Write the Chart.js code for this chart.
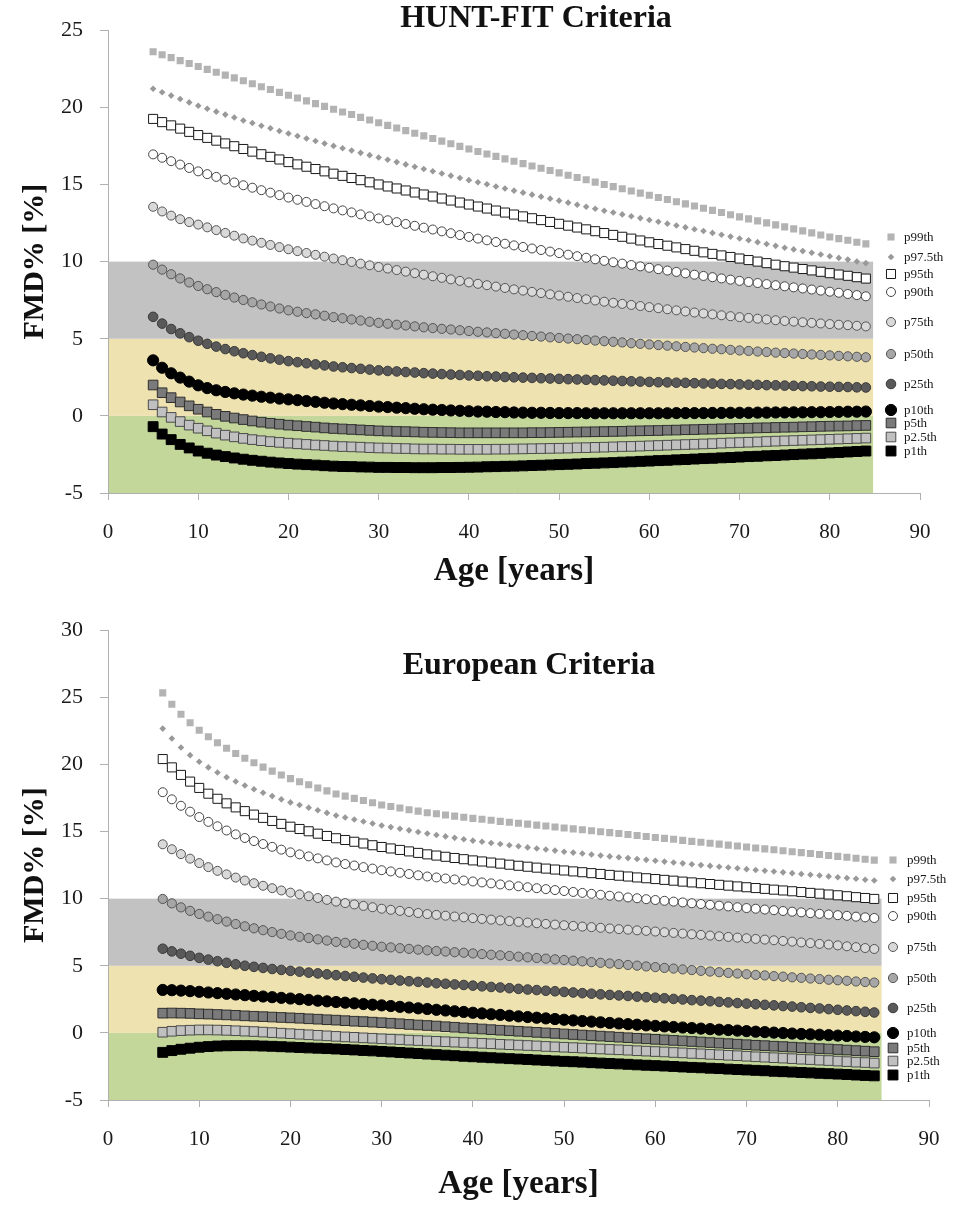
<!DOCTYPE html>
<html>
<head>
<meta charset="utf-8">
<title>FMD% percentiles</title>
<script src="https://cdn.jsdelivr.net/npm/chart.js@4.4.1/dist/chart.umd.min.js"></script>
<style>
body { margin: 0; background: #ffffff; }
#wrap { position: relative; width: 961px; height: 1205px; }
#wrap canvas { position: absolute; left: 0; }
</style>
</head>
<body>
<div id="wrap">
  <canvas id="hunt-chart" width="961" height="600" style="top:0px;width:961px;height:600px"></canvas>
  <canvas id="euro-chart" width="961" height="605" style="top:600px;width:961px;height:605px"></canvas>
</div>
<script>
var seriesNames = ["p99th", "p97.5th", "p95th", "p90th", "p75th", "p50th", "p25th", "p10th", "p5th", "p2.5th", "p1th"];

var huntAges = [5,6,7,8,9,10,11,12,13,14,15,16,17,18,19,20,21,22,23,24,25,26,27,28,29,30,31,32,33,34,35,36,37,38,39,40,41,42,43,44,45,46,47,48,49,50,51,52,53,54,55,56,57,58,59,60,61,62,63,64,65,66,67,68,69,70,71,72,73,74,75,76,77,78,79,80,81,82,83,84];
var euroAges = [6,7,8,9,10,11,12,13,14,15,16,17,18,19,20,21,22,23,24,25,26,27,28,29,30,31,32,33,34,35,36,37,38,39,40,41,42,43,44,45,46,47,48,49,50,51,52,53,54,55,56,57,58,59,60,61,62,63,64,65,66,67,68,69,70,71,72,73,74,75,76,77,78,79,80,81,82,83,84];

// HUNT-FIT criteria, FMD% per age
var huntP99 = [23.60,23.41,23.22,23.03,22.84,22.65,22.46,22.28,22.09,21.91,21.72,21.53,21.34,21.16,20.97,20.78,20.60,20.42,20.24,20.06,19.88,19.70,19.53,19.35,19.18,19.00,18.83,18.66,18.49,18.32,18.15,17.98,17.81,17.64,17.47,17.30,17.14,16.98,16.82,16.66,16.50,16.35,16.20,16.05,15.90,15.75,15.60,15.45,15.30,15.15,15.00,14.86,14.72,14.58,14.44,14.30,14.16,14.02,13.88,13.74,13.60,13.46,13.32,13.18,13.04,12.90,12.77,12.64,12.51,12.38,12.25,12.12,11.99,11.86,11.73,11.60,11.49,11.38,11.26,11.15];
var huntP975 = [21.20,20.98,20.76,20.54,20.32,20.10,19.91,19.72,19.53,19.34,19.15,18.98,18.81,18.64,18.47,18.30,18.14,17.98,17.82,17.66,17.50,17.35,17.20,17.05,16.90,16.75,16.60,16.45,16.30,16.15,16.00,15.86,15.71,15.57,15.42,15.28,15.14,15.01,14.87,14.74,14.60,14.47,14.34,14.21,14.08,13.95,13.82,13.69,13.56,13.43,13.30,13.18,13.06,12.94,12.82,12.70,12.58,12.46,12.34,12.22,12.10,11.98,11.86,11.74,11.62,11.50,11.38,11.26,11.14,11.02,10.90,10.79,10.68,10.57,10.46,10.35,10.24,10.13,10.01,9.90];
var huntP95 = [19.25,19.04,18.83,18.62,18.41,18.20,18.02,17.84,17.66,17.48,17.30,17.13,16.96,16.79,16.62,16.45,16.30,16.15,16.00,15.85,15.70,15.56,15.42,15.28,15.14,15.00,14.87,14.74,14.61,14.48,14.35,14.22,14.09,13.96,13.83,13.70,13.57,13.44,13.31,13.18,13.05,12.93,12.81,12.69,12.57,12.45,12.33,12.21,12.09,11.97,11.85,11.73,11.61,11.49,11.37,11.25,11.14,11.03,10.92,10.81,10.70,10.60,10.50,10.40,10.30,10.20,10.10,10.00,9.90,9.80,9.70,9.61,9.52,9.43,9.34,9.25,9.16,9.08,8.99,8.90];
var huntP90 = [16.95,16.73,16.51,16.29,16.07,15.85,15.67,15.49,15.31,15.13,14.95,14.79,14.63,14.47,14.31,14.15,14.01,13.87,13.73,13.59,13.45,13.32,13.19,13.06,12.93,12.80,12.68,12.56,12.44,12.32,12.20,12.08,11.96,11.84,11.72,11.60,11.49,11.38,11.27,11.16,11.05,10.95,10.85,10.75,10.65,10.55,10.45,10.35,10.25,10.15,10.05,9.96,9.87,9.78,9.69,9.60,9.51,9.42,9.33,9.24,9.15,9.07,8.99,8.91,8.83,8.75,8.68,8.61,8.54,8.47,8.40,8.33,8.26,8.19,8.12,8.05,7.98,7.90,7.83,7.75];
var huntP75 = [13.55,13.25,12.98,12.75,12.56,12.40,12.22,12.04,11.86,11.68,11.50,11.36,11.22,11.08,10.94,10.80,10.68,10.56,10.44,10.32,10.20,10.09,9.98,9.87,9.76,9.65,9.55,9.45,9.35,9.25,9.15,9.05,8.95,8.85,8.75,8.65,8.56,8.47,8.38,8.29,8.20,8.12,8.04,7.96,7.88,7.80,7.72,7.64,7.56,7.48,7.40,7.33,7.26,7.19,7.12,7.05,6.98,6.91,6.84,6.77,6.70,6.64,6.58,6.52,6.46,6.40,6.35,6.30,6.25,6.20,6.15,6.11,6.07,6.03,5.99,5.95,5.91,5.88,5.84,5.80];
var huntP50 = [9.80,9.48,9.18,8.91,8.65,8.42,8.21,8.02,7.84,7.67,7.51,7.36,7.22,7.09,6.96,6.84,6.75,6.66,6.58,6.49,6.40,6.33,6.25,6.18,6.10,6.03,5.97,5.91,5.86,5.80,5.74,5.69,5.64,5.60,5.55,5.50,5.45,5.41,5.36,5.32,5.27,5.23,5.18,5.14,5.09,5.05,5.01,4.97,4.92,4.88,4.84,4.80,4.76,4.71,4.67,4.63,4.59,4.55,4.51,4.47,4.43,4.39,4.35,4.32,4.28,4.24,4.21,4.17,4.14,4.10,4.07,4.04,4.01,3.98,3.95,3.92,3.89,3.86,3.83,3.80];
var huntP25 = [6.42,5.98,5.63,5.35,5.10,4.87,4.67,4.49,4.33,4.19,4.06,3.94,3.83,3.73,3.64,3.55,3.48,3.41,3.34,3.27,3.20,3.15,3.10,3.05,3.00,2.95,2.91,2.88,2.84,2.81,2.77,2.74,2.71,2.68,2.65,2.62,2.60,2.57,2.55,2.52,2.50,2.48,2.46,2.44,2.42,2.40,2.38,2.36,2.34,2.32,2.30,2.28,2.26,2.24,2.22,2.20,2.18,2.17,2.15,2.14,2.12,2.10,2.09,2.07,2.06,2.04,2.02,2.01,1.99,1.98,1.96,1.95,1.93,1.92,1.90,1.89,1.88,1.87,1.85,1.84];
var huntP10 = [3.60,3.12,2.76,2.48,2.22,1.98,1.80,1.66,1.55,1.46,1.38,1.31,1.24,1.18,1.12,1.07,1.02,0.96,0.91,0.85,0.80,0.76,0.72,0.68,0.64,0.60,0.57,0.53,0.50,0.46,0.43,0.40,0.38,0.35,0.33,0.30,0.28,0.27,0.25,0.24,0.22,0.21,0.20,0.20,0.19,0.18,0.18,0.18,0.17,0.17,0.17,0.17,0.17,0.17,0.17,0.17,0.17,0.17,0.18,0.18,0.18,0.18,0.19,0.19,0.20,0.20,0.20,0.21,0.21,0.22,0.22,0.23,0.23,0.24,0.24,0.25,0.26,0.27,0.27,0.28];
var huntP5 = [2.00,1.50,1.18,0.90,0.65,0.43,0.25,0.10,-0.03,-0.14,-0.24,-0.33,-0.41,-0.48,-0.54,-0.60,-0.64,-0.69,-0.73,-0.78,-0.82,-0.85,-0.88,-0.91,-0.94,-0.97,-0.99,-1.01,-1.02,-1.04,-1.06,-1.07,-1.08,-1.09,-1.10,-1.10,-1.10,-1.10,-1.10,-1.10,-1.10,-1.10,-1.09,-1.09,-1.08,-1.07,-1.06,-1.05,-1.04,-1.03,-1.02,-1.01,-1.00,-0.98,-0.97,-0.96,-0.95,-0.93,-0.92,-0.90,-0.89,-0.87,-0.86,-0.84,-0.83,-0.81,-0.80,-0.78,-0.77,-0.75,-0.74,-0.73,-0.71,-0.70,-0.68,-0.67,-0.66,-0.65,-0.63,-0.62];
var huntP2_5 = [0.72,0.25,-0.10,-0.37,-0.60,-0.80,-0.97,-1.12,-1.25,-1.36,-1.46,-1.54,-1.61,-1.67,-1.72,-1.77,-1.81,-1.85,-1.89,-1.92,-1.96,-1.99,-2.01,-2.03,-2.06,-2.08,-2.09,-2.11,-2.12,-2.14,-2.15,-2.15,-2.16,-2.16,-2.17,-2.17,-2.17,-2.17,-2.16,-2.16,-2.15,-2.14,-2.13,-2.12,-2.11,-2.10,-2.09,-2.07,-2.06,-2.04,-2.03,-2.01,-1.99,-1.98,-1.96,-1.94,-1.92,-1.90,-1.88,-1.86,-1.84,-1.82,-1.80,-1.77,-1.75,-1.73,-1.71,-1.69,-1.66,-1.64,-1.62,-1.60,-1.58,-1.56,-1.54,-1.52,-1.50,-1.48,-1.46,-1.44];
var huntP1 = [-0.70,-1.18,-1.54,-1.85,-2.08,-2.28,-2.42,-2.54,-2.64,-2.73,-2.81,-2.88,-2.94,-3.00,-3.05,-3.09,-3.13,-3.16,-3.19,-3.23,-3.26,-3.28,-3.29,-3.31,-3.32,-3.34,-3.34,-3.35,-3.35,-3.36,-3.36,-3.36,-3.35,-3.35,-3.34,-3.33,-3.32,-3.30,-3.29,-3.27,-3.26,-3.24,-3.22,-3.20,-3.18,-3.16,-3.14,-3.12,-3.09,-3.07,-3.05,-3.03,-3.00,-2.98,-2.95,-2.93,-2.90,-2.88,-2.85,-2.83,-2.80,-2.77,-2.75,-2.72,-2.70,-2.67,-2.64,-2.62,-2.59,-2.57,-2.54,-2.51,-2.48,-2.46,-2.43,-2.40,-2.37,-2.34,-2.31,-2.28];

// European criteria, FMD% per age
var euroP99 = [25.33,24.48,23.74,23.10,22.55,22.06,21.62,21.20,20.82,20.46,20.12,19.80,19.50,19.21,18.94,18.71,18.48,18.25,18.03,17.80,17.64,17.47,17.31,17.14,16.98,16.86,16.75,16.63,16.52,16.40,16.32,16.23,16.15,16.06,15.98,15.91,15.84,15.76,15.69,15.62,15.55,15.48,15.41,15.34,15.27,15.20,15.13,15.06,14.99,14.92,14.85,14.78,14.70,14.63,14.56,14.49,14.42,14.34,14.27,14.20,14.13,14.06,13.99,13.92,13.85,13.78,13.71,13.64,13.57,13.50,13.43,13.36,13.29,13.22,13.15,13.08,13.01,12.94,12.87];
var euroP975 = [22.67,21.93,21.26,20.69,20.20,19.78,19.40,19.05,18.73,18.43,18.15,17.89,17.64,17.40,17.17,16.98,16.78,16.59,16.39,16.20,16.05,15.90,15.75,15.60,15.45,15.33,15.21,15.09,14.97,14.85,14.74,14.64,14.53,14.43,14.32,14.24,14.15,14.07,13.98,13.90,13.82,13.74,13.66,13.58,13.50,13.43,13.36,13.29,13.22,13.15,13.08,13.02,12.95,12.89,12.82,12.76,12.69,12.63,12.56,12.50,12.44,12.38,12.32,12.26,12.20,12.14,12.08,12.02,11.96,11.90,11.84,11.78,11.72,11.66,11.60,11.54,11.48,11.41,11.35];
var euroP95 = [20.40,19.78,19.22,18.72,18.25,17.82,17.44,17.10,16.80,16.52,16.26,16.02,15.79,15.57,15.36,15.19,15.02,14.84,14.67,14.50,14.37,14.24,14.11,13.98,13.85,13.74,13.63,13.52,13.41,13.30,13.21,13.12,13.03,12.94,12.85,12.77,12.69,12.61,12.53,12.45,12.38,12.31,12.24,12.17,12.10,12.03,11.97,11.90,11.84,11.77,11.71,11.65,11.58,11.52,11.46,11.40,11.34,11.27,11.21,11.15,11.09,11.03,10.97,10.91,10.85,10.79,10.73,10.67,10.61,10.55,10.49,10.43,10.37,10.31,10.25,10.18,10.11,10.05,9.98];
var euroP90 = [17.93,17.40,16.92,16.48,16.08,15.72,15.39,15.08,14.79,14.52,14.29,14.07,13.86,13.65,13.45,13.30,13.15,13.00,12.85,12.70,12.58,12.47,12.35,12.24,12.12,12.03,11.93,11.84,11.74,11.65,11.58,11.50,11.43,11.35,11.28,11.21,11.14,11.06,10.99,10.92,10.85,10.78,10.71,10.64,10.57,10.50,10.43,10.36,10.29,10.22,10.16,10.09,10.03,9.96,9.90,9.84,9.78,9.72,9.66,9.60,9.54,9.48,9.42,9.36,9.30,9.25,9.19,9.14,9.08,9.03,8.98,8.92,8.87,8.82,8.77,8.72,8.66,8.61,8.56];
var euroP75 = [14.05,13.68,13.32,12.98,12.65,12.35,12.07,11.81,11.57,11.35,11.15,10.96,10.78,10.61,10.45,10.32,10.18,10.05,9.91,9.78,9.67,9.57,9.46,9.36,9.25,9.17,9.09,9.01,8.93,8.85,8.79,8.73,8.67,8.61,8.55,8.49,8.44,8.38,8.33,8.27,8.22,8.17,8.12,8.07,8.02,7.97,7.92,7.88,7.83,7.78,7.73,7.69,7.64,7.60,7.55,7.50,7.45,7.40,7.35,7.30,7.25,7.20,7.15,7.10,7.05,7.00,6.95,6.90,6.85,6.80,6.74,6.69,6.63,6.58,6.52,6.45,6.39,6.32,6.25];
var euroP50 = [9.98,9.65,9.35,9.09,8.86,8.66,8.47,8.29,8.11,7.94,7.79,7.65,7.51,7.38,7.26,7.16,7.07,6.97,6.88,6.78,6.71,6.64,6.56,6.49,6.42,6.37,6.31,6.26,6.20,6.15,6.10,6.06,6.01,5.97,5.92,5.87,5.82,5.78,5.73,5.68,5.63,5.58,5.53,5.48,5.43,5.38,5.33,5.27,5.22,5.17,5.12,5.06,5.01,4.95,4.90,4.84,4.79,4.73,4.68,4.62,4.57,4.52,4.47,4.42,4.37,4.32,4.28,4.23,4.19,4.14,4.10,4.05,4.01,3.96,3.92,3.88,3.83,3.79,3.75];
var euroP25 = [6.27,6.07,5.90,5.74,5.59,5.46,5.34,5.22,5.11,5.00,4.92,4.84,4.76,4.69,4.62,4.56,4.49,4.43,4.36,4.30,4.24,4.18,4.12,4.06,4.00,3.95,3.90,3.85,3.80,3.75,3.70,3.66,3.61,3.57,3.52,3.47,3.42,3.38,3.33,3.28,3.23,3.19,3.14,3.10,3.05,3.01,2.96,2.92,2.87,2.83,2.79,2.75,2.70,2.66,2.62,2.58,2.53,2.49,2.44,2.40,2.36,2.31,2.27,2.22,2.18,2.14,2.09,2.05,2.00,1.96,1.91,1.86,1.82,1.77,1.72,1.67,1.62,1.57,1.52];
var euroP10 = [3.20,3.18,3.15,3.11,3.06,3.01,2.96,2.91,2.86,2.81,2.76,2.71,2.66,2.61,2.56,2.51,2.46,2.40,2.35,2.30,2.25,2.20,2.15,2.10,2.05,2.00,1.94,1.89,1.83,1.78,1.72,1.67,1.61,1.56,1.50,1.45,1.39,1.34,1.28,1.23,1.18,1.13,1.08,1.03,0.98,0.93,0.88,0.84,0.79,0.74,0.70,0.65,0.61,0.56,0.52,0.48,0.44,0.40,0.36,0.32,0.28,0.24,0.21,0.17,0.13,0.09,0.06,0.02,-0.01,-0.05,-0.08,-0.11,-0.14,-0.17,-0.20,-0.23,-0.27,-0.30,-0.33];
var euroP5 = [1.47,1.48,1.47,1.45,1.42,1.40,1.37,1.34,1.31,1.27,1.24,1.21,1.18,1.15,1.12,1.09,1.05,1.02,0.98,0.95,0.91,0.87,0.84,0.80,0.76,0.72,0.68,0.63,0.59,0.55,0.51,0.46,0.42,0.37,0.33,0.29,0.24,0.20,0.16,0.12,0.08,0.04,0.00,-0.04,-0.08,-0.12,-0.16,-0.20,-0.24,-0.28,-0.32,-0.36,-0.40,-0.44,-0.48,-0.52,-0.56,-0.60,-0.64,-0.68,-0.72,-0.76,-0.80,-0.84,-0.88,-0.92,-0.95,-0.99,-1.02,-1.06,-1.10,-1.13,-1.17,-1.20,-1.24,-1.28,-1.32,-1.36,-1.40];
var euroP2_5 = [0.05,0.12,0.17,0.20,0.22,0.22,0.21,0.19,0.16,0.13,0.10,0.06,0.02,-0.02,-0.06,-0.10,-0.14,-0.18,-0.22,-0.26,-0.30,-0.33,-0.37,-0.40,-0.44,-0.47,-0.50,-0.54,-0.57,-0.60,-0.63,-0.66,-0.69,-0.72,-0.75,-0.78,-0.81,-0.85,-0.88,-0.91,-0.94,-0.97,-1.01,-1.04,-1.07,-1.10,-1.13,-1.17,-1.20,-1.23,-1.26,-1.29,-1.33,-1.36,-1.39,-1.42,-1.46,-1.49,-1.53,-1.56,-1.60,-1.63,-1.67,-1.70,-1.74,-1.78,-1.81,-1.85,-1.88,-1.92,-1.96,-1.99,-2.03,-2.06,-2.10,-2.14,-2.18,-2.21,-2.25];
var euroP1 = [-1.45,-1.32,-1.22,-1.14,-1.07,-1.02,-0.98,-0.96,-0.95,-0.95,-0.96,-0.98,-1.00,-1.03,-1.06,-1.09,-1.12,-1.14,-1.17,-1.20,-1.24,-1.27,-1.31,-1.34,-1.38,-1.42,-1.46,-1.50,-1.54,-1.58,-1.62,-1.66,-1.70,-1.74,-1.78,-1.81,-1.85,-1.88,-1.92,-1.95,-1.98,-2.02,-2.05,-2.09,-2.12,-2.15,-2.18,-2.22,-2.25,-2.28,-2.31,-2.34,-2.38,-2.41,-2.44,-2.47,-2.50,-2.54,-2.57,-2.60,-2.63,-2.66,-2.70,-2.73,-2.76,-2.79,-2.82,-2.86,-2.89,-2.92,-2.95,-2.98,-3.01,-3.04,-3.07,-3.10,-3.14,-3.17,-3.20];

// shaded classification bands (FMD% ranges) behind the points
var bandLow = [-5, 0, 5];
var bandHigh = [0, 5, 10];
var bandEndAge = 84.8;
var bandColors = ["#c4d79b", "#eee2b1", "#c2c2c2"];

var serif = "'Liberation Serif', 'DejaVu Serif', serif";

// marker look for each percentile, same order as seriesNames
var markerStyles = [
    {shape: "rect",    radius: 5.0, fill: "#b3b3b3", line: "#b3b3b3", width: 0},
    {shape: "rectRot", radius: 3.3, fill: "#999999", line: "#999999", width: 0},
    {shape: "rect",    radius: 6.4, fill: "#ffffff", line: "#1a1a1a", width: 1},
    {shape: "circle",  radius: 4.5, fill: "#ffffff", line: "#444444", width: 1},
    {shape: "circle",  radius: 4.5, fill: "#d9d9d9", line: "#555555", width: 1},
    {shape: "circle",  radius: 4.6, fill: "#a6a6a6", line: "#555555", width: 1},
    {shape: "circle",  radius: 4.8, fill: "#595959", line: "#3a3a3a", width: 1},
    {shape: "circle",  radius: 5.6, fill: "#000000", line: "#000000", width: 1},
    {shape: "rect",    radius: 6.8, fill: "#7a7a7a", line: "#2e2e2e", width: 1},
    {shape: "rect",    radius: 6.8, fill: "#c0c0c0", line: "#4a4a4a", width: 1},
    {shape: "rect",    radius: 7.0, fill: "#000000", line: "#000000", width: 1}
];

function drawMarker(ctx, st, x, y){
    ctx.beginPath();
    if (st.shape === "circle"){
        ctx.arc(x, y, st.radius, 0, Math.PI * 2);
    } else if (st.shape === "rect"){
        var h = st.radius * Math.SQRT1_2;
        ctx.rect(x - h, y - h, 2 * h, 2 * h);
    } else {
        ctx.moveTo(x, y - st.radius);
        ctx.lineTo(x + st.radius, y);
        ctx.lineTo(x, y + st.radius);
        ctx.lineTo(x - st.radius, y);
        ctx.closePath();
    }
    ctx.fillStyle = st.fill;
    ctx.fill();
    if (st.width > 0){
        ctx.lineWidth = st.width;
        ctx.strokeStyle = st.line;
        ctx.stroke();
    }
}

var bandPlugin = {
    id: "bands",
    beforeDraw: function(chart){
        var ctx = chart.ctx;
        var xs = chart.scales.x, ys = chart.scales.y;
        var x0 = xs.getPixelForValue(0), x1 = xs.getPixelForValue(bandEndAge);
        ctx.save();
        for (var i = 0; i < bandLow.length; i++){
            var yTop = ys.getPixelForValue(bandHigh[i]);
            var yBot = ys.getPixelForValue(bandLow[i]);
            ctx.fillStyle = bandColors[i];
            ctx.fillRect(x0, yTop, x1 - x0, yBot - yTop);
        }
        ctx.restore();
    }
};

var panelTextPlugin = {
    id: "panelText",
    afterDraw: function(chart, args, opts){
        var ctx = chart.ctx;
        ctx.save();
        ctx.fillStyle = "#111111";
        ctx.textAlign = "center";
        ctx.textBaseline = "middle";
        ctx.font = "bold 32px " + serif;
        ctx.fillText(opts.title, opts.titleX, opts.titleY);

        // side legend, rows placed next to the curve ends
        ctx.textAlign = "left";
        ctx.font = "13px " + serif;
        for (var i = 0; i < seriesNames.length; i++){
            var y = opts.rows[i];
            drawMarker(ctx, markerStyles[i], opts.markerX, y);
            ctx.fillStyle = "#1a1a1a";
            ctx.fillText(seriesNames[i], opts.textX, y + 1);
        }
        ctx.restore();
    }
};

function buildDatasets(ages, values){
    var list = [];
    for (var i = 0; i < seriesNames.length; i++){
        var pts = [];
        for (var j = 0; j < ages.length; j++){
            pts.push({x: ages[j], y: values[i][j]});
        }
        var st = markerStyles[i];
        list.push({
            label: seriesNames[i],
            data: pts,
            showLine: false,
            pointStyle: st.shape,
            pointRadius: st.radius,
            pointHoverRadius: st.radius,
            pointBackgroundColor: st.fill,
            pointBorderColor: st.line,
            pointBorderWidth: st.width
        });
    }
    return list;
}

function drawPanel(canvasId, ages, values, yMax, frame, text){
    var ctx = document.getElementById(canvasId);
    var axisColor = "#b0b0b0";
    return new Chart(ctx, {
        type: "scatter",
        data: {datasets: buildDatasets(ages, values)},
        plugins: [bandPlugin, panelTextPlugin],
        options: {
            responsive: false,
            animation: false,
            events: [],
            layout: {padding: {top: frame.top, right: frame.right, left: 0, bottom: 0}},
            plugins: {
                legend: {display: false},
                tooltip: {enabled: false},
                panelText: text
            },
            scales: {
                x: {
                    type: "linear",
                    min: 0,
                    max: 90,
                    ticks: {stepSize: 10, padding: 20, color: "#1a1a1a", font: {family: serif, size: 21}},
                    grid: {drawOnChartArea: false, tickLength: 7, color: axisColor},
                    border: {color: axisColor},
                    title: {display: true, text: "Age [years]", color: "#111111",
                        font: {family: serif, size: 33, weight: "bold"}, padding: {top: 0, bottom: frame.xTitlePad}},
                    afterFit: function(scale){ scale.height = frame.xHeight; }
                },
                y: {
                    type: "linear",
                    min: -5,
                    max: yMax,
                    ticks: {stepSize: 5, padding: 17, color: "#1a1a1a", font: {family: serif, size: 22}},
                    grid: {drawOnChartArea: false, tickLength: 8, color: axisColor},
                    border: {color: axisColor},
                    title: {display: true, text: "FMD% [%]", color: "#111111",
                        font: {family: serif, size: 30, weight: "bold"}, padding: {top: 17, bottom: 0}},
                    afterFit: function(scale){ scale.width = 108; }
                }
            }
        }
    });
}

drawPanel("hunt-chart", huntAges,
    [huntP99, huntP975, huntP95, huntP90, huntP75, huntP50, huntP25, huntP10, huntP5, huntP2_5, huntP1],
    25,
    {top: 19, right: 41, xHeight: 107, xTitlePad: 9},
    {title: "HUNT-FIT Criteria", titleX: 536, titleY: 19, markerX: 891, textX: 904,
     rows: [237, 257, 274, 292, 322, 354, 384, 410, 423, 437, 451]});

drawPanel("euro-chart", euroAges,
    [euroP99, euroP975, euroP95, euroP90, euroP75, euroP50, euroP25, euroP10, euroP5, euroP2_5, euroP1],
    30,
    {top: 27, right: 32, xHeight: 105, xTitlePad: 1},
    {title: "European Criteria", titleX: 529, titleY: 66, markerX: 893, textX: 907,
     rows: [260, 279, 298, 316, 347, 378, 408, 433, 448, 461, 475]});
</script>
</body>
</html>
